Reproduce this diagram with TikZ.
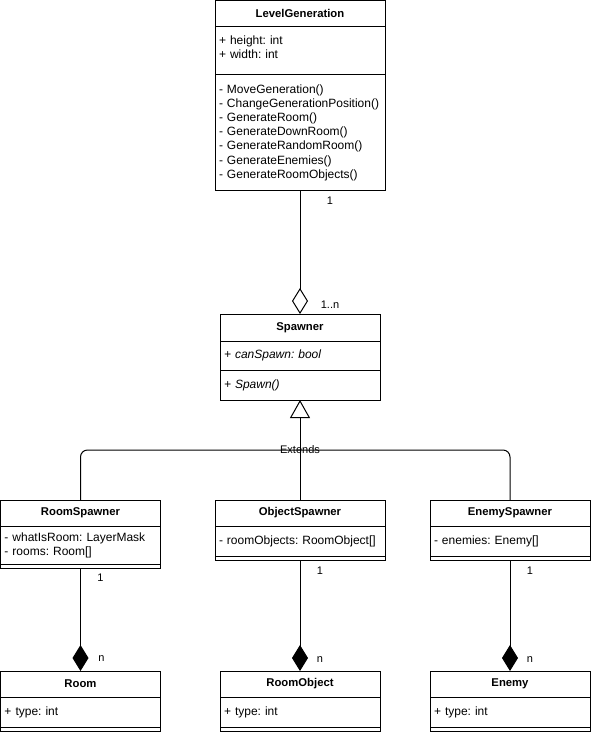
\documentclass[tikz,border=0pt]{standalone}
\usepackage{fontspec}
\setmainfont{Liberation Sans}
\usetikzlibrary{arrows.meta,positioning,calc}
\hyphenpenalty=10000
\exhyphenpenalty=10000
\frenchspacing

\begin{document}
\begin{tikzpicture}[
  x=1pt, y=1pt, line width=1pt,
  head/.style={draw, fill=white, outer sep=0pt, inner sep=0pt, minimum height=26pt, font=\fontsize{11.3}{13}\selectfont\bfseries},
  members/.style={draw, fill=white, outer sep=0pt, inner xsep=4pt, inner ysep=2pt, align=left, font=\frenchspacing\fontsize{12}{14.2}\selectfont},
  mult/.style={inner sep=0pt, font=\fontsize{11}{13}\selectfont},
  aggr/.style={-{Diamond[open, fill=white, length=26pt, width=16pt]}},
  comp/.style={-{Diamond[length=26pt, width=16pt]}},
  ext/.style={-{Triangle[open, fill=white, length=18pt, width=20pt]}}
]
\path[use as bounding box, fill=white] (0,0) rectangle (591,-732);

% top class
\node[head, minimum width=170pt, anchor=north west] (lgHead) at (215,-0.5) {LevelGeneration};
\node[members, text width=162pt, minimum height=48pt, below=0pt of lgHead] (lgAttr) {+ height: int\\+ width: int\\[-7pt]\mbox{}};
\node[members, text width=162pt, minimum height=116pt, below=0pt of lgAttr] (lgOps) {- MoveGeneration()\\- ChangeGenerationPosition()\\- GenerateRoom()\\- GenerateDownRoom()\\- GenerateRandomRoom()\\- GenerateEnemies()\\- GenerateRoomObjects()};

% base class
\node[head, minimum width=160pt, minimum height=27pt, anchor=north west] (spHead) at (220,-314) {Spawner};
\node[members, text width=152pt, minimum height=29pt, below=0pt of spHead] (spAttr) {\textit{+ canSpawn: bool}};
\node[members, text width=152pt, minimum height=30pt, below=0pt of spAttr] (spOps) {\textit{+ Spawn()}};

% spawners
\node[head, minimum width=160pt, anchor=north west] (rsHead) at (0.5,-500) {RoomSpawner};
\node[members, text width=152pt, minimum height=38pt, below=0pt of rsHead] (rsAttr) {- whatIsRoom: LayerMask\\- rooms: Room[]};
\node[members, text width=152pt, minimum height=4pt, below=0pt of rsAttr] (rsOps) {};

\node[head, minimum width=170pt, anchor=north west] (osHead) at (215,-500) {ObjectSpawner};
\node[members, text width=162pt, minimum height=30pt, below=0pt of osHead] (osAttr) {- roomObjects: RoomObject[]};
\node[members, text width=162pt, minimum height=4pt, below=0pt of osAttr] (osOps) {};

\node[head, minimum width=160pt, anchor=north west] (esHead) at (430,-500) {EnemySpawner};
\node[members, text width=152pt, minimum height=30pt, below=0pt of esHead] (esAttr) {- enemies: Enemy[]};
\node[members, text width=152pt, minimum height=4pt, below=0pt of esAttr] (esOps) {};

% spawned things
\node[head, minimum width=160pt, anchor=north west] (roHead) at (0.5,-671) {Room};
\node[members, text width=152pt, minimum height=30pt, below=0pt of roHead] (roAttr) {+ type: int};
\node[members, text width=152pt, minimum height=4pt, below=0pt of roAttr] (roOps) {};

\node[head, minimum width=160pt, anchor=north west] (obHead) at (220,-671) {RoomObject};
\node[members, text width=152pt, minimum height=30pt, below=0pt of obHead] (obAttr) {+ type: int};
\node[members, text width=152pt, minimum height=4pt, below=0pt of obAttr] (obOps) {};

\node[head, minimum width=160pt, anchor=north west] (enHead) at (430,-671) {Enemy};
\node[members, text width=152pt, minimum height=30pt, below=0pt of enHead] (enAttr) {+ type: int};
\node[members, text width=152pt, minimum height=4pt, below=0pt of enAttr] (enOps) {};

% aggregation
\draw[aggr] (lgOps.south) -- (spHead.north);
\node[mult] (lgOne) at ($(lgOps.south)+(30,-10)$) {1};
\node[mult] (spMany) at ($(spHead.north)+(30,9)$) {1..n};

% inheritance
\coordinate (extJoin) at ($(spOps.south)+(0,-50)$);
\draw[rounded corners=7pt] (rsHead.north) |- (extJoin);
\draw[rounded corners=7pt] (esHead.north) |- (extJoin);
\draw[ext] (osHead.north) -- (spOps.south);
\node[mult] (extLabel) at (extJoin) {Extends};

% composition
\draw[comp] (rsOps.south) -- (roHead.north);
\node[mult] (rsOne) at ($(rsOps.south)+(20,-10)$) {1};
\node[mult] (roMany) at ($(roHead.north)+(21,12)$) {n};
\draw[comp] (osOps.south) -- (obHead.north);
\node[mult] (osOne) at ($(osOps.south)+(20,-11)$) {1};
\node[mult] (obMany) at ($(obHead.north)+(20,11)$) {n};
\draw[comp] (esOps.south) -- (enHead.north);
\node[mult] (esOne) at ($(esOps.south)+(20,-11)$) {1};
\node[mult] (enMany) at ($(enHead.north)+(20,11)$) {n};
\end{tikzpicture}
\end{document}
